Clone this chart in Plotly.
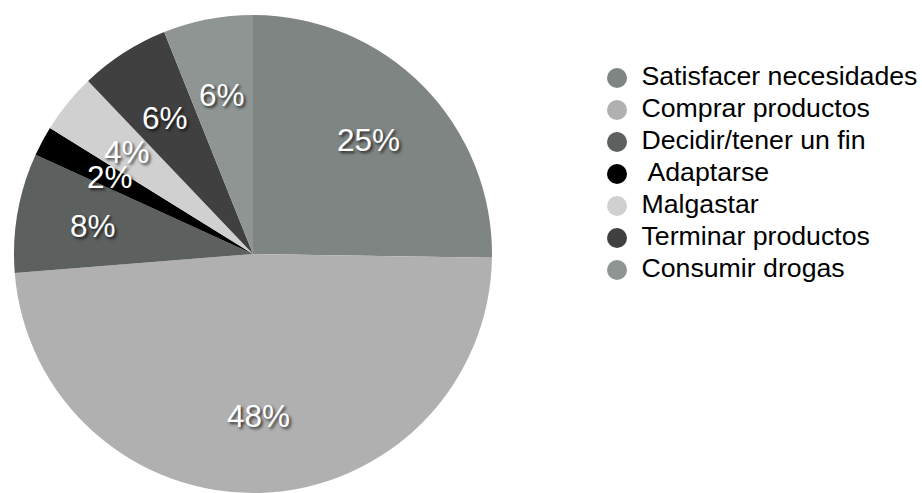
import math
import plotly.graph_objects as go

categories = ["Satisfacer necesidades", "Comprar productos", "Decidir/tener un fin",
              " Adaptarse", "Malgastar", "Terminar productos", "Consumir drogas"]
values = [25, 48, 8, 2, 4, 6, 6]
labels_txt = ["25%", "48%", "8%", "2%", "4%", "6%", "6%"]
colors = ["#7f8582", "#b0b0b0", "#5c605e", "#000000", "#d0d0d0", "#404040", "#8e9592"]

FONT = "Liberation Sans, Arial, Helvetica, sans-serif"
W, H = 922, 493
pie_x = [0, 506 / W]
pie_y = [0, 1 - 15 / H]

fig = go.Figure()
fig.add_trace(go.Pie(
    labels=categories, values=values, textinfo="none",
    sort=False, direction="clockwise", rotation=0,
    marker=dict(colors=colors, line=dict(width=0)),
    domain=dict(x=pie_x, y=pie_y),
    showlegend=False, hoverinfo="skip",
))

# percentage labels placed along each slice's mid-angle
cx = (pie_x[0] + pie_x[1]) / 2 * W
cy = (1 - (pie_y[0] + pie_y[1]) / 2) * H
r = min((pie_x[1] - pie_x[0]) * W, (pie_y[1] - pie_y[0]) * H) / 2
total = sum(values)
cum = 0
for v, t in zip(values, labels_txt):
    mid = (cum + v / 2) / total * 2 * math.pi
    cum += v
    px = cx + 0.678 * r * math.sin(mid)
    py = cy - 0.678 * r * math.cos(mid)
    fig.add_annotation(
        x=px / W, y=1 - py / H, xref="paper", yref="paper", text=t, showarrow=False,
        xanchor="center", yanchor="middle",
        font=dict(family=FONT, size=31.5, color="white",
                  shadow="2px 2px 3px rgba(0,0,0,0.7)"),
    )

# legend drawn as scatter on hidden axes
idx = list(range(len(categories)))
fig.add_trace(go.Scatter(
    x=[0] * len(categories), y=idx, mode="markers",
    marker=dict(size=20, color=colors, line=dict(width=0)),
    showlegend=False, hoverinfo="skip", cliponaxis=False,
))
fig.add_trace(go.Scatter(
    x=[0.0298] * len(categories), y=idx, mode="markers+text", text=categories,
    textposition="middle right",
    marker=dict(size=20, color="rgba(0,0,0,0)", line=dict(width=0)),
    textfont=dict(family=FONT, size=26.7, color="black"),
    showlegend=False, hoverinfo="skip", cliponaxis=False,
))

fig.update_layout(
    width=W, height=H, margin=dict(l=0, r=0, t=0, b=0),
    paper_bgcolor="white", plot_bgcolor="white",
    xaxis=dict(domain=[0.6, 1.0], range=[-0.173, 0.827], visible=False, fixedrange=True),
    yaxis=dict(domain=[0, 1], range=[(H - 78) / 32, -78 / 32], visible=False, fixedrange=True),
)

fig.write_html("out.html", config={"displayModeBar": False},
               post_script="document.body.style.margin='0';document.body.style.padding='0';")
